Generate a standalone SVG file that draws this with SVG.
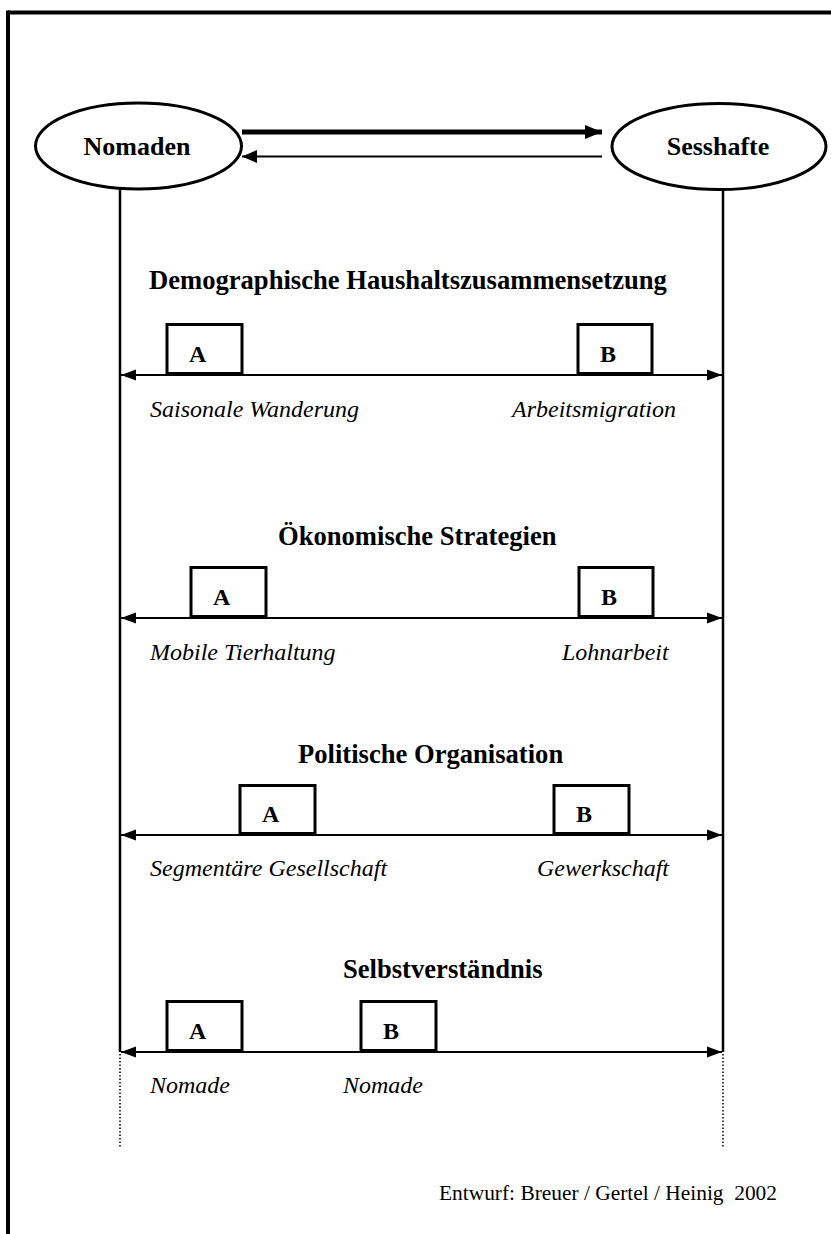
<svg xmlns="http://www.w3.org/2000/svg" width="831" height="1234" viewBox="0 0 831 1234">
<defs>
<style>
.bg{fill:#fff}
.frame{stroke:#000;stroke-width:4;fill:none}
.ell{fill:#fff;stroke:#000;stroke-width:3}
.box{fill:#fff;stroke:#000;stroke-width:3}
.line{stroke:#000;stroke-width:2;fill:none}
.vline{stroke:#000;stroke-width:2.5;fill:none}
.dot{stroke:#000;stroke-width:1.5;stroke-dasharray:1.5 2;fill:none}
.title{font-family:"Liberation Serif","Times New Roman",serif;font-weight:bold;font-size:26.6px;fill:#000}
.node{font-family:"Liberation Serif","Times New Roman",serif;font-weight:bold;font-size:26px;fill:#000}
.letter{font-family:"Liberation Serif","Times New Roman",serif;font-weight:bold;font-size:24px;fill:#000}
.lab{font-family:"Liberation Serif","Times New Roman",serif;font-style:italic;font-size:24px;fill:#000}
.credit{font-family:"Liberation Serif","Times New Roman",serif;font-size:21.4px;fill:#000}
</style>
<marker id="ah" markerUnits="userSpaceOnUse" markerWidth="16" markerHeight="12" refX="15" refY="6" orient="auto-start-reverse" viewBox="0 0 16 12">
<path d="M0,0.5 L15,6 L0,11.5 z" fill="#000"/>
</marker>
<marker id="ahBig" markerUnits="userSpaceOnUse" markerWidth="18" markerHeight="15" refX="17" refY="7.5" orient="auto" viewBox="0 0 18 15">
<path d="M0,0.5 L17,7.5 L0,14.5 z" fill="#000"/>
</marker>
<marker id="ahMid" markerUnits="userSpaceOnUse" markerWidth="16" markerHeight="14" refX="15" refY="7" orient="auto" viewBox="0 0 16 14">
<path d="M0,0.5 L15,7 L0,13.5 z" fill="#000"/>
</marker>
</defs>
<rect class="bg" x="0" y="0" width="831" height="1234"/>
<g id="frame">
<line class="frame" x1="8" y1="12.5" x2="831" y2="12.5"/>
<line class="frame" x1="8" y1="10.5" x2="8" y2="1234"/>
</g>

<g id="connectors">
<line x1="242" y1="132" x2="602" y2="132" stroke="#000" stroke-width="5" marker-end="url(#ahBig)"/>
<line x1="602" y1="156.5" x2="242" y2="156.5" stroke="#000" stroke-width="2" marker-end="url(#ahMid)"/>
<line class="vline" x1="120" y1="189" x2="120" y2="1052"/>
<line class="vline" x1="723" y1="190" x2="723" y2="1052"/>
<line class="dot" x1="120" y1="1054" x2="120" y2="1148"/>
<line class="dot" x1="723" y1="1054" x2="723" y2="1148"/>
<line class="line" x1="121" y1="375" x2="722" y2="375" marker-start="url(#ah)" marker-end="url(#ah)"/>
<line class="line" x1="121" y1="618" x2="722" y2="618" marker-start="url(#ah)" marker-end="url(#ah)"/>
<line class="line" x1="121" y1="835" x2="722" y2="835" marker-start="url(#ah)" marker-end="url(#ah)"/>
<line class="line" x1="121" y1="1052" x2="722" y2="1052" marker-start="url(#ah)" marker-end="url(#ah)"/>
</g>

<g id="nomaden">
<ellipse class="ell" cx="138.5" cy="146" rx="103" ry="43"/>
<text class="node" x="137" y="155" text-anchor="middle">Nomaden</text>
</g>
<g id="sesshafte">
<ellipse class="ell" cx="719" cy="146.5" rx="107" ry="43"/>
<text class="node" x="718" y="155" text-anchor="middle">Sesshafte</text>
</g>

<g id="section-demographie">
<text class="title" x="149" y="289">Demographische Haushaltszusammensetzung</text>
<g id="demo-a"><rect class="box" x="167" y="324.5" width="75" height="49"/><text class="letter" x="189" y="362">A</text></g>
<g id="demo-b"><rect class="box" x="578" y="324.5" width="74" height="49"/><text class="letter" x="600" y="362">B</text></g>
<text class="lab" x="150" y="417">Saisonale Wanderung</text>
<text class="lab" x="512" y="417">Arbeitsmigration</text>
</g>

<g id="section-oekonomie">
<text class="title" x="278" y="545">Ökonomische Strategien</text>
<g id="oeko-a"><rect class="box" x="191" y="567.5" width="75" height="49"/><text class="letter" x="213" y="605">A</text></g>
<g id="oeko-b"><rect class="box" x="579" y="567.5" width="74" height="49"/><text class="letter" x="601" y="605">B</text></g>
<text class="lab" x="150" y="660">Mobile Tierhaltung</text>
<text class="lab" x="562" y="660">Lohnarbeit</text>
</g>

<g id="section-politik">
<text class="title" x="298" y="763">Politische Organisation</text>
<g id="pol-a"><rect class="box" x="240" y="785.5" width="75" height="48"/><text class="letter" x="262" y="822">A</text></g>
<g id="pol-b"><rect class="box" x="554" y="785.5" width="75" height="48"/><text class="letter" x="576" y="822">B</text></g>
<text class="lab" x="150" y="876">Segmentäre Gesellschaft</text>
<text class="lab" x="537" y="876">Gewerkschaft</text>
</g>

<g id="section-selbst">
<text class="title" x="343" y="978">Selbstverständnis</text>
<g id="selbst-a"><rect class="box" x="167" y="1001.5" width="75" height="49"/><text class="letter" x="189" y="1039">A</text></g>
<g id="selbst-b"><rect class="box" x="361" y="1001.5" width="75" height="49"/><text class="letter" x="383" y="1039">B</text></g>
<text class="lab" x="150" y="1093">Nomade</text>
<text class="lab" x="343" y="1093">Nomade</text>
</g>

<text class="credit" x="439" y="1200" xml:space="preserve">Entwurf: Breuer / Gertel / Heinig  2002</text>
</svg>
